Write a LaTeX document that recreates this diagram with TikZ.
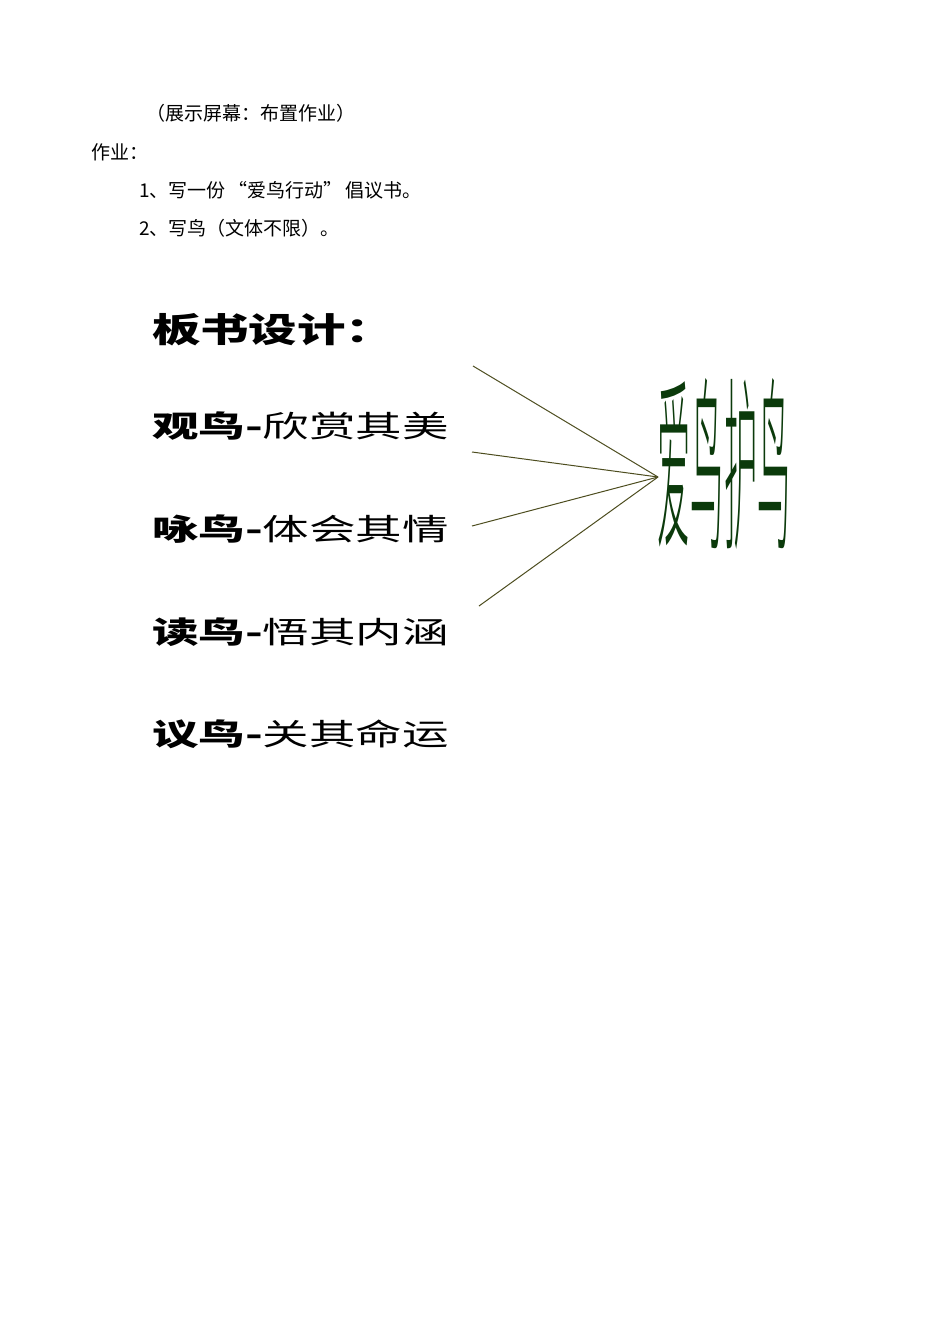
\documentclass[tikz,border=0pt]{standalone}
\usepackage{fontspec}
\setmainfont{Noto Sans CJK SC}
\newfontfamily\cjk{Noto Sans CJK SC}
\newfontfamily\cjklight{Noto Sans CJK SC Light}
\definecolor{lineolive}{HTML}{4D4D1F}
\definecolor{artgreen}{HTML}{0B3A0B}
\begin{document}
\begin{tikzpicture}[x=1pt,y=-1pt,
  plain/.style={inner sep=0pt, outer sep=0pt, anchor=west, font=\cjk\fontsize{19}{21}\selectfont},
  board/.style={inner sep=0pt, outer sep=0pt, anchor=west, xscale=1.55, font=\cjk\fontsize{30}{32}\selectfont},
  ray/.style={draw=lineolive, line width=1pt}
]
\useasboundingbox (0,0) rectangle (950,1344);
\fill[white] (0,0) rectangle (950,1344);

\node[plain] (show) at (146,113) {（展示屏幕：布置作业）};
\node[plain] (hw) at (91,152) {作业：};
\node[plain] (hw1) at (139,190) {1、写一份\,“爱鸟行动”\,倡议书。};
\node[plain] (hw2) at (139,228) {2、写鸟（文体不限）。};

\node[board, xscale=0.92, font=\cjk\bfseries\fontsize{34}{36}\selectfont] (title) at (152,330) {板书设计：};
\node[board] (r1) at (152,426) {{\bfseries 观鸟-}欣赏其美};
\node[board] (r2) at (152,529) {{\bfseries 咏鸟-}体会其情};
\node[board] (r3) at (152,632) {{\bfseries 读鸟-}悟其内涵};
\node[board] (r4) at (152,734) {{\bfseries 议鸟-}关其命运};

\node[inner sep=0pt, outer sep=0pt, text=artgreen, xscale=0.92, yscale=5.2,
      font=\cjklight\fontsize{36}{38}\selectfont] (art) at (724,464) {爱鸟护鸟};

\coordinate (hub) at (658,477);
\coordinate (s1) at (473,366);
\coordinate (s2) at (472,452);
\coordinate (s3) at (472,526);
\coordinate (s4) at (479,606);
\draw[ray] (s1) -- (hub);
\draw[ray] (s2) -- (hub);
\draw[ray] (s3) -- (hub);
\draw[ray] (s4) -- (hub);
\end{tikzpicture}
\end{document}
